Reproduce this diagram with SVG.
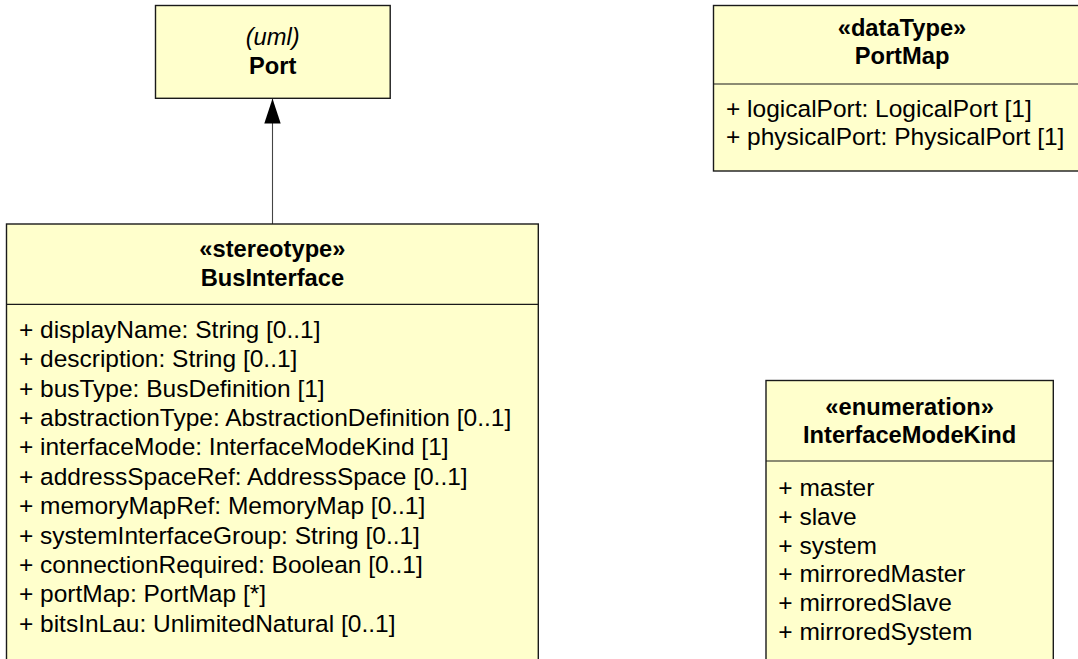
<svg xmlns="http://www.w3.org/2000/svg" width="1078" height="659" viewBox="0 0 1078 659">
<style>
.box{fill:#FFFFCC;stroke:#1a1a1a;stroke-width:1.4}
.div{stroke:#1a1a1a;stroke-width:1.2}
text{font-family:"Liberation Sans",Arial,sans-serif;fill:#000}
.t{font-size:23.7px;font-weight:bold;text-anchor:middle}
.it{font-size:23.7px;font-style:italic;text-anchor:middle}
.a{font-size:24.5px}
.edge{stroke:#444;stroke-width:1.1;fill:none}
</style>
<defs>
<marker id="gen" markerUnits="userSpaceOnUse" markerWidth="25" markerHeight="17" refX="25" refY="8.5" orient="auto" viewBox="0 0 25 17">
<path d="M25 8.5 L0 0.3 L0 16.7 Z" fill="#000"/>
</marker>
</defs>
<g id="connectors">
<path class="edge" d="M272.5 224 L272.5 98.6" marker-end="url(#gen)"/>
</g>
<g id="Port">
<rect class="box" x="155.5" y="5.5" width="234.7" height="92.8"/>
<text class="it" x="272.7" y="45">(uml)</text>
<text class="t" x="272.7" y="74">Port</text>
</g>
<g id="BusInterface">
<rect class="box" x="6.5" y="224" width="531.8" height="480"/>
<line class="div" x1="6.5" y1="304.3" x2="538.3" y2="304.3"/>
<text class="t" x="272.4" y="257.3">«stereotype»</text>
<text class="t" x="272.4" y="285.7">BusInterface</text>
<text class="a" x="18.9" y="337.7">+ displayName: String [0..1]</text>
<text class="a" x="18.9" y="367.1">+ description: String [0..1]</text>
<text class="a" x="18.9" y="396.5">+ busType: BusDefinition [1]</text>
<text class="a" x="18.9" y="425.9">+ abstractionType: AbstractionDefinition [0..1]</text>
<text class="a" x="18.9" y="455.3">+ interfaceMode: InterfaceModeKind [1]</text>
<text class="a" x="18.9" y="484.7">+ addressSpaceRef: AddressSpace [0..1]</text>
<text class="a" x="18.9" y="514.1">+ memoryMapRef: MemoryMap [0..1]</text>
<text class="a" x="18.9" y="543.5">+ systemInterfaceGroup: String [0..1]</text>
<text class="a" x="18.9" y="572.9">+ connectionRequired: Boolean [0..1]</text>
<text class="a" x="18.9" y="602.3">+ portMap: PortMap [*]</text>
<text class="a" x="18.9" y="631.7">+ bitsInLau: UnlimitedNatural [0..1]</text>
</g>
<g id="PortMap">
<rect class="box" x="713.5" y="5.5" width="378" height="165.5"/>
<line class="div" x1="713.5" y1="84" x2="1091.5" y2="84"/>
<text class="t" x="902" y="36">«dataType»</text>
<text class="t" x="902" y="64">PortMap</text>
<text class="a" x="726" y="116.7">+ logicalPort: LogicalPort [1]</text>
<text class="a" x="726" y="145">+ physicalPort: PhysicalPort [1]</text>
</g>
<g id="InterfaceModeKind">
<rect class="box" x="766" y="380.5" width="287.3" height="320"/>
<line class="div" x1="766" y1="461" x2="1053.3" y2="461"/>
<text class="t" x="909.6" y="415">«enumeration»</text>
<text class="t" x="909.6" y="443.3">InterfaceModeKind</text>
<text class="a" x="778.3" y="495.7">+ master</text>
<text class="a" x="778.3" y="524.6">+ slave</text>
<text class="a" x="778.3" y="553.5">+ system</text>
<text class="a" x="778.3" y="582.4">+ mirroredMaster</text>
<text class="a" x="778.3" y="611.3">+ mirroredSlave</text>
<text class="a" x="778.3" y="640.2">+ mirroredSystem</text>
</g>
</svg>
